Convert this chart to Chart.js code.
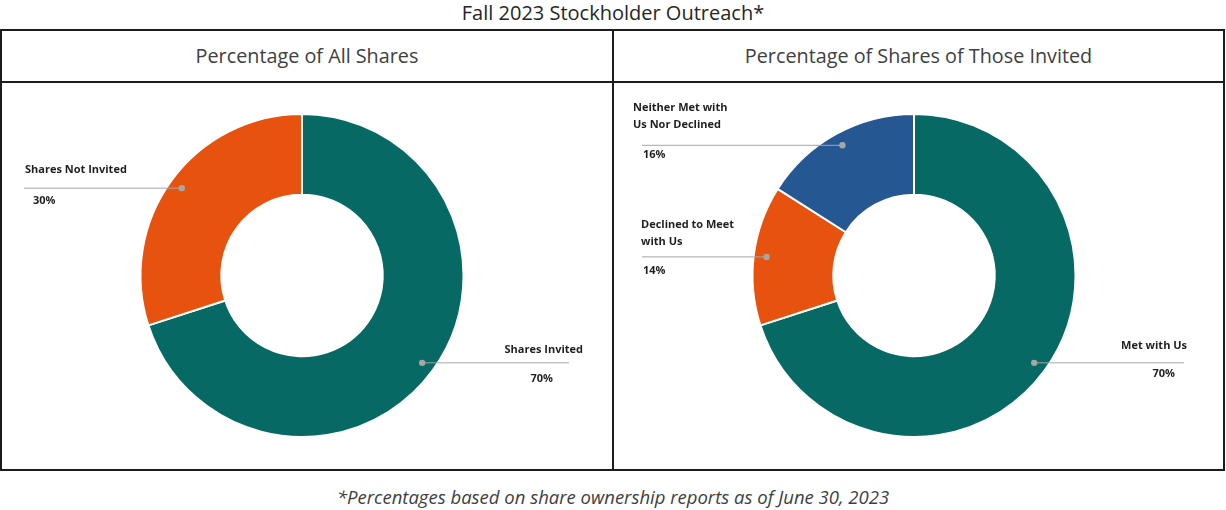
<!DOCTYPE html>
<html>
<head>
<meta charset="utf-8">
<title>Fall 2023 Stockholder Outreach</title>
<script src="https://cdn.jsdelivr.net/npm/chart.js@4.4.0/dist/chart.umd.min.js"></script>
<style>
  body { margin: 0; background: #fff; }
  #page { position: relative; width: 1226px; height: 510px; overflow: hidden; font-family: "Open Sans", Lato, sans-serif; }
  .title { position: absolute; left: 0; top: 0; width: 1226px; height: 25px; line-height: 25px; text-align: center; font-size: 20px; color: #262626; }
  .frame { position: absolute; left: 0; top: 29px; width: 1225px; height: 442px; box-sizing: border-box; border: 2px solid #1c1c1c; }
  .hline { position: absolute; left: 0; top: 81px; width: 1225px; height: 2px; background: #1c1c1c; }
  .vline { position: absolute; left: 612px; top: 29px; width: 2px; height: 442px; background: #1c1c1c; }
  .head { position: absolute; top: 31px; height: 50px; line-height: 50px; text-align: center; font-size: 19.8px; color: #404040; }
  .foot { position: absolute; left: 0; top: 484px; width: 1226px; height: 26px; line-height: 26px; text-align: center; font-size: 18.5px; font-style: italic; color: #404040; }
  canvas { position: absolute; }
</style>
</head>
<body>
<div id="page">
  <div class="title">Fall 2023 Stockholder Outreach*</div>
  <div class="frame"></div>
  <div class="hline"></div>
  <div class="vline"></div>
  <div class="head" style="left:2px;width:610px;">Percentage of All Shares</div>
  <div class="head" style="left:614px;width:609px;">Percentage of Shares of Those Invited</div>
  <canvas id="all-shares" width="610" height="386" style="left:2px;top:83px;"></canvas>
  <canvas id="invited-shares" width="609" height="386" style="left:614px;top:83px;"></canvas>
  <div class="foot">*Percentages based on share ownership reports as of June 30, 2023</div>
</div>
<script>
// data
const allSharesLabels = ['Shares Invited', 'Shares Not Invited'];
const allSharesValues = [70, 30];

const invitedLabels = ['Met with Us', ['Declined to Meet', 'with Us'], ['Neither Met with', 'Us Nor Declined']];
const invitedValues = [70, 14, 16];

const allSharesColors = ['#076963', '#E8520F'];
const invitedColors = ['#076963', '#E8520F', '#255893'];

// where each data label sits (page coords)
const allSharesLayout = [
  { lineEnd: 569, name: { x: 583, y: 350, align: 'right' }, pct: { x: 553, y: 379, align: 'right' } },
  { lineEnd: 24, name: { x: 25, y: 170, align: 'left' }, pct: { x: 33, y: 201, align: 'left' } }
];
const invitedLayout = [
  { lineEnd: 1184, name: { x: 1187, y: 346, align: 'right' }, pct: { x: 1175, y: 374, align: 'right' } },
  { lineEnd: 642, name: { x: 641, y: 225, align: 'left' }, pct: { x: 643, y: 271, align: 'left' } },
  { lineEnd: 642, name: { x: 633, y: 108, align: 'left' }, pct: { x: 643, y: 155, align: 'left' } }
];

const leaderLabels = {
  id: 'leaderLabels',
  afterDatasetsDraw(chart, args, opts) {
    const ctx = chart.ctx;
    const meta = chart.getDatasetMeta(0);
    const values = chart.data.datasets[0].data;
    meta.data.forEach((arc, i) => {
      const p = arc.getProps(['x', 'y', 'startAngle', 'endAngle', 'outerRadius'], true);
      const mid = (p.startAngle + p.endAngle) / 2;
      const r = p.outerRadius * 0.92;
      const dx = p.x + Math.cos(mid) * r;
      const dy = p.y + Math.sin(mid) * r;
      const lay = opts.layout[i];
      const ox = opts.offsetX, oy = opts.offsetY;

      ctx.save();
      ctx.strokeStyle = '#A6A6A6';
      ctx.lineWidth = 1;
      ctx.beginPath();
      ctx.moveTo(dx, dy);
      ctx.lineTo(lay.lineEnd - ox, dy);
      ctx.stroke();
      ctx.fillStyle = '#A6A6A6';
      ctx.beginPath();
      ctx.arc(dx, dy, 3.2, 0, Math.PI * 2);
      ctx.fill();

      ctx.fillStyle = '#1f1f1f';
      ctx.font = 'bold 11px "Open Sans", sans-serif';
      ctx.textBaseline = 'middle';
      const lines = [].concat(chart.data.labels[i]);
      ctx.textAlign = lay.name.align;
      lines.forEach((t, k) => ctx.fillText(t, lay.name.x - ox, lay.name.y - oy + k * 16.5));
      ctx.textAlign = lay.pct.align;
      ctx.fillText(values[i] + '%', lay.pct.x - ox, lay.pct.y - oy);
      ctx.restore();
    });
  }
};

function makeDoughnut(id, labels, values, colors, layout, offsetX, padRight) {
  return new Chart(document.getElementById(id), {
    type: 'doughnut',
    data: {
      labels: labels,
      datasets: [{
        data: values,
        backgroundColor: colors,
        borderColor: '#ffffff',
        borderWidth: 2
      }]
    },
    options: {
      responsive: false,
      animation: false,
      cutout: '50%',
      layout: { padding: { top: 30, bottom: 31, left: 0, right: padRight } },
      plugins: {
        legend: { display: false },
        tooltip: { enabled: false },
        leaderLabels: { layout: layout, offsetX: offsetX, offsetY: 83 }
      }
    },
    plugins: [leaderLabels]
  });
}

makeDoughnut('all-shares', allSharesLabels, allSharesValues, allSharesColors, allSharesLayout, 2, 10);
makeDoughnut('invited-shares', invitedLabels, invitedValues, invitedColors, invitedLayout, 614, 9);
</script>
</body>
</html>
